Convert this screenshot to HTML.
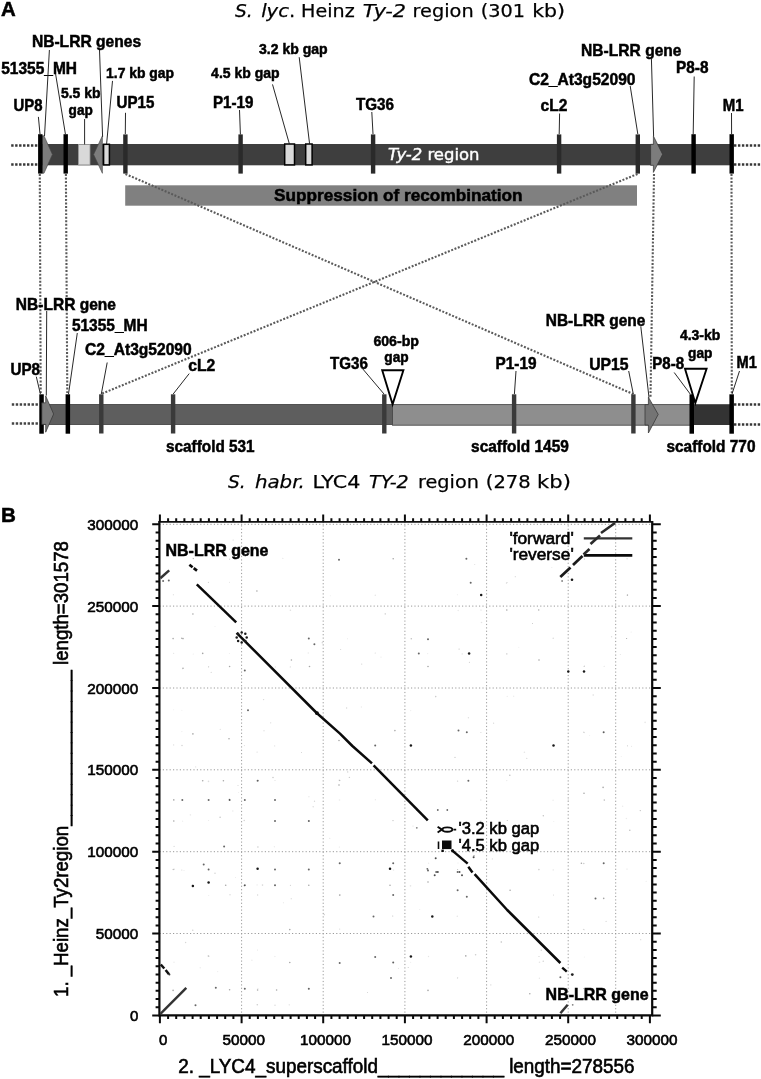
<!DOCTYPE html>
<html lang="en"><head><meta charset="utf-8"><title>Ty-2 region comparison</title>
<style>html,body{margin:0;padding:0;background:#fff}body{width:761px;height:1079px;overflow:hidden}svg{display:block;filter:grayscale(1) blur(0.4px)}text{font-family:"Liberation Sans",Arial,Helvetica,sans-serif;fill:#000}.b{font-weight:bold;stroke:#000;stroke-width:0.5}.n{stroke:#000;stroke-width:0.6}.v{font-family:"DejaVu Sans",Verdana,"Liberation Sans",sans-serif;stroke:#000;stroke-width:0.25}.ld{stroke:#1c1c1c;stroke-width:0.95;fill:none}.dt{stroke:#5a5a5a;stroke-width:2.1;stroke-dasharray:1.95 1.61;fill:none}.de{stroke:#383838;stroke-width:2.5;stroke-dasharray:2.4 1.55;fill:none}.gr{stroke:#9a9a9a;stroke-width:1;stroke-dasharray:1.2 2.2;fill:none}</style></head><body>
<svg width="761" height="1079" viewBox="0 0 761 1079">
<rect width="761" height="1079" fill="#fff"/>
<g id="panelA">
<text x="1.1" y="15.6" font-size="20.4" class="b" text-anchor="start">A</text>
<text x="234.9" y="17.3" font-size="18.5" class="v" font-style="italic">S.</text>
<text x="261.2" y="17.3" font-size="18.5" class="v" textLength="34" lengthAdjust="spacingAndGlyphs"><tspan font-style="italic">lyc</tspan>.</text>
<text x="301.1" y="17.3" font-size="18.5" class="v" textLength="53.6" lengthAdjust="spacingAndGlyphs">Heinz</text>
<text x="362.8" y="17.3" font-size="18.5" class="v" font-style="italic" textLength="43.2" lengthAdjust="spacingAndGlyphs">Ty-2</text>
<text x="412.6" y="17.3" font-size="18.5" class="v" textLength="61.1" lengthAdjust="spacingAndGlyphs">region</text>
<text x="480.7" y="17.3" font-size="18.5" class="v" textLength="44.3" lengthAdjust="spacingAndGlyphs">(301</text>
<text x="532.2" y="17.3" font-size="18.5" class="v" textLength="32.9" lengthAdjust="spacingAndGlyphs">kb)</text>
<text x="228" y="487.5" font-size="18.5" class="v" font-style="italic">S.</text>
<text x="254.9" y="487.5" font-size="18.5" class="v" font-style="italic" textLength="49.95" lengthAdjust="spacingAndGlyphs">habr.</text>
<text x="312.5" y="487.5" font-size="18.5" class="v" textLength="47.75" lengthAdjust="spacingAndGlyphs">LYC4</text>
<text x="369" y="487.5" font-size="18.5" class="v" font-style="italic" textLength="39.7" lengthAdjust="spacingAndGlyphs">TY-2</text>
<text x="418" y="487.5" font-size="18.5" class="v" textLength="60.9" lengthAdjust="spacingAndGlyphs">region</text>
<text x="485.8" y="487.5" font-size="18.5" class="v" textLength="44.9" lengthAdjust="spacingAndGlyphs">(278</text>
<text x="537.1" y="487.5" font-size="18.5" class="v" textLength="33.8" lengthAdjust="spacingAndGlyphs">kb)</text>
<line x1="39.8" y1="174" x2="40.7" y2="394" class="dt"/>
<line x1="65.9" y1="174" x2="67.3" y2="394" class="dt"/>
<line x1="654" y1="174" x2="650.5" y2="397" class="dt"/>
<line x1="731.5" y1="174" x2="731.8" y2="394" class="dt"/>
<line x1="11.2" y1="145.6" x2="38" y2="145.6" class="de"/>
<line x1="734" y1="145.6" x2="761" y2="145.6" class="de"/>
<line x1="11.2" y1="164.4" x2="38" y2="164.4" class="de"/>
<line x1="734" y1="164.4" x2="761" y2="164.4" class="de"/>
<line x1="11.8" y1="404.5" x2="38.4" y2="404.5" class="de" style="stroke:#444"/>
<line x1="734" y1="404.6" x2="761" y2="404.6" class="de"/>
<line x1="11.8" y1="423.5" x2="38.4" y2="423.5" class="de" style="stroke:#444"/>
<line x1="734" y1="424.5" x2="761" y2="424.5" class="de"/>
<rect x="42" y="144" width="688" height="21.3" fill="#3e3e3e"/>
<polygon points="42.3,135.8 44,135.8 52.4,154.4 44,173.2 42.3,173.2" fill="#7c7c7c" stroke="#444" stroke-width="0.6"/>
<polygon points="102.4,135.8 93.6,154.5 102.4,173.3" fill="#7c7c7c" stroke="#444" stroke-width="0.6"/>
<polygon points="650.6,144.3 653.4,144.3 653.4,136 662.6,154.3 653.4,172.4 653.4,165.3 650.6,165.3" fill="#7c7c7c" stroke="#333" stroke-width="0.7"/>
<rect x="78.4" y="144.5" width="11.6" height="20.4" fill="#d9d9d9" stroke="#9a9a9a" stroke-width="0.8"/>
<rect x="103.6" y="144.3" width="5.8" height="20.6" fill="#d9d9d9" stroke="#000" stroke-width="1.5"/>
<rect x="284.7" y="144" width="9.8" height="20.9" fill="#d9d9d9" stroke="#000" stroke-width="1.5"/>
<rect x="305.7" y="144" width="6.4" height="20.9" fill="#d9d9d9" stroke="#000" stroke-width="1.5"/>
<rect x="38.1" y="134.2" width="4.4" height="39.4" fill="#000"/>
<rect x="63.5" y="134.2" width="4.4" height="39.4" fill="#000"/>
<rect x="691.4" y="134.2" width="4.4" height="39.4" fill="#000"/>
<rect x="729.5" y="134.2" width="4.4" height="39.4" fill="#000"/>
<rect x="123.2" y="134.4" width="4.4" height="39.2" fill="#2a2a2a"/>
<rect x="238.4" y="134.4" width="4.4" height="39.2" fill="#2a2a2a"/>
<rect x="370.9" y="134.4" width="4.4" height="39.2" fill="#2a2a2a"/>
<rect x="556.9" y="134.4" width="4.4" height="39.2" fill="#2a2a2a"/>
<rect x="635.6" y="134.4" width="4.4" height="39.2" fill="#2a2a2a"/>
<rect x="125.2" y="185.3" width="511.8" height="20.4" fill="#808080"/>
<line x1="125.5" y1="174" x2="633" y2="394" class="dt"/>
<line x1="637.5" y1="174" x2="101" y2="394" class="dt"/>
<text x="274" y="200.9" font-size="17.2" class="b" text-anchor="start" textLength="248.6" lengthAdjust="spacingAndGlyphs">Suppression of recombination</text>
<text x="388" y="160.4" font-size="15.5" class="v" fill="#fff" style="fill:#fff;stroke:#fff;stroke-width:0.4" textLength="91.5" lengthAdjust="spacingAndGlyphs"><tspan font-style="italic">Ty-2</tspan> region</text>
<text x="31.9" y="46.5" font-size="16.2" class="b" text-anchor="start" textLength="109.2" lengthAdjust="spacingAndGlyphs">NB-LRR genes</text>
<text x="1.2" y="73.7" font-size="16.2" class="b" text-anchor="start" textLength="75.8" lengthAdjust="spacingAndGlyphs">51355_MH</text>
<text x="106.1" y="78" font-size="14.4" class="b" text-anchor="start" textLength="68" lengthAdjust="spacingAndGlyphs">1.7 kb gap</text>
<text x="259" y="54.2" font-size="14.4" class="b" text-anchor="start" textLength="68.6" lengthAdjust="spacingAndGlyphs">3.2 kb gap</text>
<text x="211.1" y="78.2" font-size="14.4" class="b" text-anchor="start" textLength="68.5" lengthAdjust="spacingAndGlyphs">4.5 kb gap</text>
<text x="80.7" y="98.3" font-size="14.4" class="b" text-anchor="middle" textLength="39.5" lengthAdjust="spacingAndGlyphs">5.5 kb</text>
<text x="80.7" y="114.5" font-size="14.4" class="b" text-anchor="middle" textLength="24.2" lengthAdjust="spacingAndGlyphs">gap</text>
<text x="13.6" y="110.7" font-size="16.2" class="b" text-anchor="start" textLength="29" lengthAdjust="spacingAndGlyphs">UP8</text>
<text x="116.5" y="107.8" font-size="16.2" class="b" text-anchor="start" textLength="37.8" lengthAdjust="spacingAndGlyphs">UP15</text>
<text x="213" y="107.8" font-size="16.2" class="b" text-anchor="start" textLength="40.4" lengthAdjust="spacingAndGlyphs">P1-19</text>
<text x="356" y="110" font-size="16.2" class="b" text-anchor="start" textLength="38" lengthAdjust="spacingAndGlyphs">TG36</text>
<text x="540.6" y="111.3" font-size="16.2" class="b" text-anchor="start" textLength="26.8" lengthAdjust="spacingAndGlyphs">cL2</text>
<text x="528.9" y="84.7" font-size="16.2" class="b" text-anchor="start" textLength="106.6" lengthAdjust="spacingAndGlyphs">C2_At3g52090</text>
<text x="581.1" y="56.1" font-size="16.2" class="b" text-anchor="start" textLength="100.4" lengthAdjust="spacingAndGlyphs">NB-LRR gene</text>
<text x="676.1" y="72.7" font-size="16.2" class="b" text-anchor="start" textLength="32.4" lengthAdjust="spacingAndGlyphs">P8-8</text>
<text x="722.7" y="111.3" font-size="16.2" class="b" text-anchor="start" textLength="20.8" lengthAdjust="spacingAndGlyphs">M1</text>
<line x1="49.4" y1="50" x2="44.5" y2="136" class="ld"/>
<line x1="99.5" y1="50" x2="102.6" y2="136.8" class="ld"/>
<line x1="55.6" y1="74" x2="65.4" y2="134" class="ld"/>
<line x1="38.4" y1="116.9" x2="40" y2="134" class="ld"/>
<line x1="84.6" y1="119" x2="84.6" y2="144.4" class="ld"/>
<line x1="112.5" y1="80.9" x2="106.6" y2="144" class="ld"/>
<line x1="125.5" y1="112.8" x2="125.3" y2="134" class="ld"/>
<line x1="239.5" y1="110" x2="240.4" y2="134.5" class="ld"/>
<line x1="272.5" y1="84.4" x2="289.4" y2="144" class="ld"/>
<line x1="299.2" y1="57.2" x2="309.6" y2="144" class="ld"/>
<line x1="371.8" y1="112" x2="373" y2="134" class="ld"/>
<line x1="559.6" y1="113.5" x2="559.2" y2="134" class="ld"/>
<line x1="630.2" y1="86" x2="637.8" y2="134" class="ld"/>
<line x1="651.4" y1="58" x2="653.6" y2="136" class="ld"/>
<line x1="694.2" y1="76.5" x2="693.2" y2="134" class="ld"/>
<line x1="731.5" y1="113" x2="731.6" y2="134" class="ld"/>
<rect x="43" y="404.5" width="349.5" height="20" fill="#5e5e5e" stroke="#3c3c3c" stroke-width="0.8"/>
<rect x="392.5" y="404.6" width="300" height="20.6" fill="#8e8e8e" stroke="#4a4a4a" stroke-width="0.9"/>
<rect x="693" y="404.2" width="37.5" height="20.8" fill="#333"/>
<polygon points="645,404.6 648.4,404.6 648.4,397.2 658.2,414.4 648.4,433 648.4,425 645,425" fill="#747474" stroke="#3a3a3a" stroke-width="0.8"/>
<rect x="39.3" y="394.3" width="4.5" height="39.4" fill="#000"/>
<rect x="65.6" y="394.3" width="4.5" height="39.4" fill="#000"/>
<rect x="689.5" y="394.3" width="4.5" height="39.4" fill="#000"/>
<rect x="729.4" y="394.3" width="4.5" height="39.4" fill="#000"/>
<rect x="99.1" y="394.3" width="4.4" height="39.2" fill="#3a3a3a"/>
<rect x="170.9" y="394.3" width="4.4" height="39.2" fill="#3a3a3a"/>
<rect x="382.1" y="394.3" width="4.4" height="39.2" fill="#3a3a3a"/>
<rect x="511.9" y="394.3" width="4.4" height="39.2" fill="#3a3a3a"/>
<rect x="631.2" y="394.3" width="4.4" height="39.2" fill="#3a3a3a"/>
<polygon points="41.8,402.8 45.7,402.8 45.7,395.9 53.6,414 45.7,432.2 45.7,424.4 41.8,424.4" fill="#7a7a7a" stroke="#333" stroke-width="0.7"/>
<polygon points="382.2,370.3 403.4,370.3 392.6,404.2" fill="#fff" stroke="#000" stroke-width="1.9" stroke-linejoin="miter"/>
<polygon points="685,368.8 706.6,368.8 695.3,403" fill="#fff" stroke="#000" stroke-width="1.9" stroke-linejoin="miter"/>
<text x="15.8" y="309.7" font-size="16.2" class="b" text-anchor="start" textLength="100.2" lengthAdjust="spacingAndGlyphs">NB-LRR gene</text>
<text x="71.9" y="331.3" font-size="16.2" class="b" text-anchor="start" textLength="75.7" lengthAdjust="spacingAndGlyphs">51355_MH</text>
<text x="85.1" y="354.7" font-size="16.2" class="b" text-anchor="start" textLength="106.6" lengthAdjust="spacingAndGlyphs">C2_At3g52090</text>
<text x="10.4" y="375.1" font-size="16.2" class="b" text-anchor="start" textLength="29.6" lengthAdjust="spacingAndGlyphs">UP8</text>
<text x="188.3" y="370.7" font-size="16.2" class="b" text-anchor="start" textLength="27" lengthAdjust="spacingAndGlyphs">cL2</text>
<text x="330" y="369.4" font-size="16.2" class="b" text-anchor="start" textLength="37.8" lengthAdjust="spacingAndGlyphs">TG36</text>
<text x="396.2" y="345.8" font-size="14.4" class="b" text-anchor="middle" textLength="45.6" lengthAdjust="spacingAndGlyphs">606-bp</text>
<text x="396.5" y="362.3" font-size="14.4" class="b" text-anchor="middle" textLength="24.4" lengthAdjust="spacingAndGlyphs">gap</text>
<text x="495.5" y="369.4" font-size="16.2" class="b" text-anchor="start" textLength="41" lengthAdjust="spacingAndGlyphs">P1-19</text>
<text x="589.2" y="370" font-size="16.2" class="b" text-anchor="start" textLength="39.4" lengthAdjust="spacingAndGlyphs">UP15</text>
<text x="545.8" y="326" font-size="16.2" class="b" text-anchor="start" textLength="99.6" lengthAdjust="spacingAndGlyphs">NB-LRR gene</text>
<text x="652.3" y="369.4" font-size="16.2" class="b" text-anchor="start" textLength="31.8" lengthAdjust="spacingAndGlyphs">P8-8</text>
<text x="700.15" y="340.3" font-size="14.4" class="b" text-anchor="middle" textLength="40.4" lengthAdjust="spacingAndGlyphs">4.3-kb</text>
<text x="700.3" y="357.6" font-size="14.4" class="b" text-anchor="middle" textLength="24.4" lengthAdjust="spacingAndGlyphs">gap</text>
<text x="736.6" y="367.6" font-size="16.2" class="b" text-anchor="start" textLength="20.3" lengthAdjust="spacingAndGlyphs">M1</text>
<text x="166" y="452.3" font-size="16.2" class="b" text-anchor="start" textLength="88.6" lengthAdjust="spacingAndGlyphs">scaffold 531</text>
<text x="471.1" y="451.7" font-size="16.2" class="b" text-anchor="start" textLength="97.7" lengthAdjust="spacingAndGlyphs">scaffold 1459</text>
<text x="666.5" y="451.7" font-size="16.2" class="b" text-anchor="start" textLength="89" lengthAdjust="spacingAndGlyphs">scaffold 770</text>
<line x1="36.3" y1="376.7" x2="40.4" y2="394" class="ld"/>
<line x1="46.7" y1="311" x2="46.3" y2="395.6" class="ld"/>
<line x1="77.3" y1="333" x2="68.5" y2="394" class="ld"/>
<line x1="107.2" y1="362.5" x2="101.3" y2="394" class="ld"/>
<line x1="189.2" y1="373.6" x2="173.2" y2="394" class="ld"/>
<line x1="362.4" y1="368.5" x2="384" y2="394" class="ld"/>
<line x1="516" y1="371" x2="514.4" y2="394" class="ld"/>
<line x1="628.7" y1="371" x2="633.3" y2="394" class="ld"/>
<line x1="640.8" y1="326.5" x2="649" y2="397.5" class="ld"/>
<line x1="674.2" y1="372.5" x2="690.2" y2="394" class="ld"/>
<line x1="739.5" y1="371" x2="732" y2="394" class="ld"/>
</g>
<g id="panelB">
<text x="1.0" y="522.2" font-size="20.6" class="b" text-anchor="start">B</text>
<line x1="241.6" y1="521.9" x2="241.6" y2="1015.3" class="gr"/>
<line x1="323.2" y1="521.9" x2="323.2" y2="1015.3" class="gr"/>
<line x1="404.9" y1="521.9" x2="404.9" y2="1015.3" class="gr"/>
<line x1="486.6" y1="521.9" x2="486.6" y2="1015.3" class="gr"/>
<line x1="568.2" y1="521.9" x2="568.2" y2="1015.3" class="gr"/>
<line x1="159.4" y1="933.5" x2="652.2" y2="933.5" class="gr"/>
<line x1="159.4" y1="851.7" x2="652.2" y2="851.7" class="gr"/>
<line x1="159.4" y1="769.8" x2="652.2" y2="769.8" class="gr"/>
<line x1="159.4" y1="688.0" x2="652.2" y2="688.0" class="gr"/>
<line x1="159.4" y1="606.1" x2="652.2" y2="606.1" class="gr"/>
<line x1="159.4" y1="524.3" x2="652.2" y2="524.3" class="gr"/>
<line x1="615.7" y1="521.9" x2="615.7" y2="1015.3" class="gr"/>
<circle cx="308.8" cy="638.6" r="1.0" fill="#000" fill-opacity="0.6"/><circle cx="314.4" cy="644.2" r="1.0" fill="#000" fill-opacity="0.6"/><circle cx="173.1" cy="638.6" r="0.8" fill="#000" fill-opacity="0.35"/><circle cx="183" cy="638.6" r="0.8" fill="#000" fill-opacity="0.35"/><circle cx="202.7" cy="653.4" r="0.8" fill="#000" fill-opacity="0.35"/><circle cx="244.8" cy="670.5" r="1.0" fill="#000" fill-opacity="0.6"/><circle cx="309.5" cy="666.5" r="0.8" fill="#000" fill-opacity="0.35"/><circle cx="183" cy="668.2" r="0.8" fill="#000" fill-opacity="0.35"/><circle cx="229.6" cy="666.5" r="0.8" fill="#000" fill-opacity="0.35"/><circle cx="248" cy="710.2" r="1.0" fill="#000" fill-opacity="0.6"/><circle cx="339" cy="559.8" r="1.0" fill="#000" fill-opacity="0.6"/><circle cx="393.2" cy="558.8" r="0.8" fill="#000" fill-opacity="0.35"/><circle cx="256.9" cy="591" r="0.8" fill="#000" fill-opacity="0.35"/><circle cx="192.9" cy="614" r="0.8" fill="#000" fill-opacity="0.35"/><circle cx="291.4" cy="660" r="0.8" fill="#000" fill-opacity="0.35"/><circle cx="375.2" cy="745.4" r="1.0" fill="#000" fill-opacity="0.6"/><circle cx="394.9" cy="730.6" r="0.8" fill="#000" fill-opacity="0.35"/><circle cx="339" cy="740.5" r="0.8" fill="#000" fill-opacity="0.35"/><circle cx="229" cy="738.8" r="0.8" fill="#000" fill-opacity="0.35"/><circle cx="192.9" cy="733.9" r="0.8" fill="#000" fill-opacity="0.35"/><circle cx="466.4" cy="558.8" r="1.0" fill="#000" fill-opacity="0.6"/><circle cx="470.7" cy="582.8" r="1.0" fill="#000" fill-opacity="0.6"/><circle cx="481.2" cy="594.9" r="1.25" fill="#000" fill-opacity="0.9"/><circle cx="428" cy="639.3" r="1.0" fill="#000" fill-opacity="0.6"/><circle cx="418.8" cy="653.4" r="1.0" fill="#000" fill-opacity="0.6"/><circle cx="469.1" cy="653.4" r="1.25" fill="#000" fill-opacity="0.9"/><circle cx="428" cy="666.5" r="0.8" fill="#000" fill-opacity="0.35"/><circle cx="568.3" cy="671.5" r="1.25" fill="#000" fill-opacity="0.9"/><circle cx="584" cy="671.5" r="1.25" fill="#000" fill-opacity="0.9"/><circle cx="458.5" cy="730.6" r="1.0" fill="#000" fill-opacity="0.6"/><circle cx="466.8" cy="732.2" r="1.0" fill="#000" fill-opacity="0.6"/><circle cx="410.9" cy="745.4" r="1.25" fill="#000" fill-opacity="0.9"/><circle cx="553.5" cy="745.4" r="1.25" fill="#000" fill-opacity="0.9"/><circle cx="603.7" cy="732.2" r="1.0" fill="#000" fill-opacity="0.6"/><circle cx="506.8" cy="610" r="0.8" fill="#000" fill-opacity="0.35"/><circle cx="539" cy="660" r="0.8" fill="#000" fill-opacity="0.35"/><circle cx="257.6" cy="780.8" r="1.0" fill="#000" fill-opacity="0.6"/><circle cx="182.3" cy="799.9" r="1.0" fill="#000" fill-opacity="0.6"/><circle cx="208.6" cy="799.9" r="1.0" fill="#000" fill-opacity="0.6"/><circle cx="229.6" cy="799.9" r="1.0" fill="#000" fill-opacity="0.6"/><circle cx="244.8" cy="799.9" r="1.0" fill="#000" fill-opacity="0.6"/><circle cx="275" cy="799.9" r="1.0" fill="#000" fill-opacity="0.6"/><circle cx="173.8" cy="799.9" r="0.8" fill="#000" fill-opacity="0.35"/><circle cx="173.8" cy="821" r="0.8" fill="#000" fill-opacity="0.35"/><circle cx="275" cy="821" r="1.0" fill="#000" fill-opacity="0.6"/><circle cx="308.8" cy="821" r="1.0" fill="#000" fill-opacity="0.6"/><circle cx="224.1" cy="846.5" r="1.0" fill="#000" fill-opacity="0.6"/><circle cx="257.6" cy="868.8" r="1.25" fill="#000" fill-opacity="0.9"/><circle cx="275" cy="869.5" r="1.0" fill="#000" fill-opacity="0.6"/><circle cx="308.8" cy="869.5" r="1.0" fill="#000" fill-opacity="0.6"/><circle cx="208.6" cy="869.5" r="1.0" fill="#000" fill-opacity="0.6"/><circle cx="203.7" cy="864.6" r="1.0" fill="#000" fill-opacity="0.6"/><circle cx="192.9" cy="885.9" r="1.25" fill="#000" fill-opacity="0.9"/><circle cx="208.6" cy="882.6" r="1.25" fill="#000" fill-opacity="0.9"/><circle cx="244.8" cy="885.3" r="1.0" fill="#000" fill-opacity="0.6"/><circle cx="275" cy="885.3" r="1.0" fill="#000" fill-opacity="0.6"/><circle cx="308.8" cy="885.3" r="0.8" fill="#000" fill-opacity="0.35"/><circle cx="225.7" cy="885.3" r="0.8" fill="#000" fill-opacity="0.35"/><circle cx="390" cy="868.8" r="1.25" fill="#000" fill-opacity="0.9"/><circle cx="393.2" cy="863.3" r="1.0" fill="#000" fill-opacity="0.6"/><circle cx="393.2" cy="895.1" r="1.0" fill="#000" fill-opacity="0.6"/><circle cx="390" cy="885.3" r="0.8" fill="#000" fill-opacity="0.35"/><circle cx="339.7" cy="863.3" r="1.0" fill="#000" fill-opacity="0.6"/><circle cx="339.7" cy="895.1" r="0.8" fill="#000" fill-opacity="0.35"/><circle cx="373.5" cy="916.5" r="1.0" fill="#000" fill-opacity="0.6"/><circle cx="339.7" cy="963.1" r="1.0" fill="#000" fill-opacity="0.6"/><circle cx="375.2" cy="956.9" r="1.0" fill="#000" fill-opacity="0.6"/><circle cx="393.2" cy="962.5" r="1.0" fill="#000" fill-opacity="0.6"/><circle cx="391" cy="977.9" r="1.0" fill="#000" fill-opacity="0.6"/><circle cx="289.8" cy="929.6" r="0.8" fill="#000" fill-opacity="0.35"/><circle cx="289.8" cy="962.5" r="0.8" fill="#000" fill-opacity="0.35"/><circle cx="244.8" cy="988.7" r="1.0" fill="#000" fill-opacity="0.6"/><circle cx="308.8" cy="988.7" r="1.0" fill="#000" fill-opacity="0.6"/><circle cx="215.8" cy="987.8" r="1.0" fill="#000" fill-opacity="0.6"/><circle cx="229.6" cy="989.7" r="0.8" fill="#000" fill-opacity="0.35"/><circle cx="257.6" cy="990" r="0.8" fill="#000" fill-opacity="0.35"/><circle cx="276.6" cy="990" r="0.8" fill="#000" fill-opacity="0.35"/><circle cx="195.5" cy="1005.2" r="1.0" fill="#000" fill-opacity="0.6"/><circle cx="173.1" cy="990.4" r="0.8" fill="#000" fill-opacity="0.35"/><circle cx="339" cy="785" r="0.8" fill="#000" fill-opacity="0.35"/><circle cx="202.7" cy="780.8" r="0.8" fill="#000" fill-opacity="0.35"/><circle cx="223.4" cy="780.8" r="0.8" fill="#000" fill-opacity="0.35"/><circle cx="468.4" cy="780.8" r="1.0" fill="#000" fill-opacity="0.6"/><circle cx="432.3" cy="916.5" r="1.25" fill="#000" fill-opacity="0.9"/><circle cx="410.9" cy="956.6" r="1.25" fill="#000" fill-opacity="0.9"/><circle cx="457.6" cy="890.2" r="1.0" fill="#000" fill-opacity="0.6"/><circle cx="466.8" cy="896.8" r="1.0" fill="#000" fill-opacity="0.6"/><circle cx="428" cy="870.5" r="1.0" fill="#000" fill-opacity="0.6"/><circle cx="436.2" cy="872.1" r="1.0" fill="#000" fill-opacity="0.6"/><circle cx="428" cy="882" r="0.8" fill="#000" fill-opacity="0.35"/><circle cx="457.6" cy="872.1" r="1.0" fill="#000" fill-opacity="0.6"/><circle cx="603.7" cy="863.3" r="1.0" fill="#000" fill-opacity="0.6"/><circle cx="581.4" cy="863.3" r="0.8" fill="#000" fill-opacity="0.35"/><circle cx="603.7" cy="898.4" r="0.8" fill="#000" fill-opacity="0.35"/><circle cx="595.5" cy="898.4" r="1.0" fill="#000" fill-opacity="0.6"/><circle cx="584" cy="793.3" r="0.8" fill="#000" fill-opacity="0.35"/><circle cx="603.1" cy="787.4" r="0.8" fill="#000" fill-opacity="0.35"/><circle cx="465.8" cy="955.9" r="0.8" fill="#000" fill-opacity="0.35"/><circle cx="428" cy="990.4" r="0.8" fill="#000" fill-opacity="0.35"/><circle cx="529.8" cy="993.7" r="0.8" fill="#000" fill-opacity="0.35"/><circle cx="510.1" cy="890.2" r="0.8" fill="#000" fill-opacity="0.35"/><circle cx="474" cy="855.7" r="0.8" fill="#000" fill-opacity="0.35"/><circle cx="229.5" cy="582.3" r="0.5" fill="#000" fill-opacity="0.13"/><circle cx="457.3" cy="594.8" r="0.5" fill="#000" fill-opacity="0.1"/><circle cx="392.7" cy="916.0" r="0.6" fill="#000" fill-opacity="0.25"/><circle cx="622.6" cy="806.3" r="0.8" fill="#000" fill-opacity="0.08"/><circle cx="185.6" cy="942.5" r="0.7" fill="#000" fill-opacity="0.16"/><circle cx="208.7" cy="895.5" r="0.6" fill="#000" fill-opacity="0.08"/><circle cx="538.6" cy="610.1" r="0.5" fill="#000" fill-opacity="0.2"/><circle cx="257.6" cy="895.0" r="0.7" fill="#000" fill-opacity="0.16"/><circle cx="410.7" cy="710.6" r="0.6" fill="#000" fill-opacity="0.08"/><circle cx="457.6" cy="781.1" r="0.7" fill="#000" fill-opacity="0.2"/><circle cx="220.3" cy="729.4" r="0.7" fill="#000" fill-opacity="0.1"/><circle cx="367.5" cy="992.6" r="0.5" fill="#000" fill-opacity="0.2"/><circle cx="339.5" cy="800.0" r="0.8" fill="#000" fill-opacity="0.08"/><circle cx="621.2" cy="756.5" r="0.5" fill="#000" fill-opacity="0.08"/><circle cx="313.2" cy="806.7" r="0.8" fill="#000" fill-opacity="0.13"/><circle cx="593.2" cy="695.0" r="0.8" fill="#000" fill-opacity="0.13"/><circle cx="208.6" cy="666.8" r="0.6" fill="#000" fill-opacity="0.25"/><circle cx="390.5" cy="869.0" r="0.8" fill="#000" fill-opacity="0.16"/><circle cx="230.0" cy="894.8" r="0.8" fill="#000" fill-opacity="0.13"/><circle cx="347.5" cy="638.7" r="0.5" fill="#000" fill-opacity="0.1"/><circle cx="553.2" cy="869.9" r="0.6" fill="#000" fill-opacity="0.13"/><circle cx="229.5" cy="800.0" r="0.7" fill="#000" fill-opacity="0.1"/><circle cx="413.0" cy="825.9" r="0.5" fill="#000" fill-opacity="0.16"/><circle cx="541.3" cy="950.3" r="0.8" fill="#000" fill-opacity="0.16"/><circle cx="208.6" cy="820.5" r="0.5" fill="#000" fill-opacity="0.1"/><circle cx="208.4" cy="582.3" r="0.6" fill="#000" fill-opacity="0.2"/><circle cx="375.3" cy="595.3" r="0.8" fill="#000" fill-opacity="0.1"/><circle cx="626.4" cy="818.5" r="0.8" fill="#000" fill-opacity="0.08"/><circle cx="428.6" cy="863.3" r="0.7" fill="#000" fill-opacity="0.08"/><circle cx="583.8" cy="732.2" r="0.6" fill="#000" fill-opacity="0.2"/><circle cx="457.4" cy="978.0" r="0.5" fill="#000" fill-opacity="0.2"/><circle cx="539.4" cy="978.3" r="0.7" fill="#000" fill-opacity="0.1"/><circle cx="275.0" cy="1005.2" r="0.6" fill="#000" fill-opacity="0.2"/><circle cx="640.7" cy="939.7" r="0.6" fill="#000" fill-opacity="0.16"/><circle cx="273.0" cy="777.5" r="0.7" fill="#000" fill-opacity="0.25"/><circle cx="174.1" cy="869.2" r="0.7" fill="#000" fill-opacity="0.16"/><circle cx="513.7" cy="696.2" r="0.7" fill="#000" fill-opacity="0.08"/><circle cx="275.0" cy="780.4" r="0.5" fill="#000" fill-opacity="0.16"/><circle cx="329.8" cy="838.3" r="0.5" fill="#000" fill-opacity="0.16"/><circle cx="526.8" cy="758.4" r="0.6" fill="#000" fill-opacity="0.16"/><circle cx="324.3" cy="914.6" r="0.8" fill="#000" fill-opacity="0.16"/><circle cx="193.2" cy="654.0" r="0.5" fill="#000" fill-opacity="0.1"/><circle cx="411.3" cy="638.7" r="0.8" fill="#000" fill-opacity="0.25"/><circle cx="238.6" cy="792.4" r="0.5" fill="#000" fill-opacity="0.08"/><circle cx="515.3" cy="576.7" r="0.6" fill="#000" fill-opacity="0.16"/><circle cx="257.5" cy="950.0" r="0.5" fill="#000" fill-opacity="0.13"/><circle cx="457.3" cy="916.3" r="0.8" fill="#000" fill-opacity="0.1"/><circle cx="583.8" cy="863.5" r="0.8" fill="#000" fill-opacity="0.2"/><circle cx="229.6" cy="559.2" r="0.6" fill="#000" fill-opacity="0.2"/><circle cx="626.6" cy="638.6" r="0.5" fill="#000" fill-opacity="0.2"/><circle cx="553.5" cy="895.1" r="0.5" fill="#000" fill-opacity="0.2"/><circle cx="257.3" cy="1004.7" r="0.8" fill="#000" fill-opacity="0.2"/><circle cx="192.8" cy="930.2" r="0.6" fill="#000" fill-opacity="0.25"/><circle cx="457.6" cy="869.5" r="0.6" fill="#000" fill-opacity="0.25"/><circle cx="290.3" cy="666.9" r="0.6" fill="#000" fill-opacity="0.16"/><circle cx="410.7" cy="962.2" r="0.5" fill="#000" fill-opacity="0.1"/><circle cx="543.2" cy="961.2" r="0.6" fill="#000" fill-opacity="0.25"/><circle cx="340.6" cy="649.5" r="0.6" fill="#000" fill-opacity="0.16"/><circle cx="208.5" cy="869.1" r="0.6" fill="#000" fill-opacity="0.1"/><circle cx="645.1" cy="722.4" r="0.8" fill="#000" fill-opacity="0.1"/><circle cx="193.2" cy="558.6" r="0.8" fill="#000" fill-opacity="0.16"/><circle cx="349.4" cy="777.4" r="0.7" fill="#000" fill-opacity="0.2"/><circle cx="217.7" cy="971.6" r="0.6" fill="#000" fill-opacity="0.08"/><circle cx="289.2" cy="1004.8" r="0.6" fill="#000" fill-opacity="0.16"/><circle cx="490.8" cy="984.9" r="0.8" fill="#000" fill-opacity="0.1"/><circle cx="457.7" cy="977.7" r="0.7" fill="#000" fill-opacity="0.08"/><circle cx="251.9" cy="960.3" r="0.7" fill="#000" fill-opacity="0.08"/><circle cx="551.8" cy="567.5" r="0.6" fill="#000" fill-opacity="0.08"/><circle cx="208.5" cy="781.4" r="0.8" fill="#000" fill-opacity="0.13"/><circle cx="184.0" cy="870.4" r="0.5" fill="#000" fill-opacity="0.1"/><circle cx="244.4" cy="745.6" r="0.6" fill="#000" fill-opacity="0.13"/><circle cx="553.1" cy="800.3" r="0.7" fill="#000" fill-opacity="0.08"/><circle cx="584.0" cy="666.5" r="0.6" fill="#000" fill-opacity="0.16"/><circle cx="538.9" cy="869.6" r="0.8" fill="#000" fill-opacity="0.2"/><circle cx="258.2" cy="780.4" r="0.6" fill="#000" fill-opacity="0.16"/><circle cx="639.2" cy="932.1" r="0.5" fill="#000" fill-opacity="0.08"/><circle cx="589.7" cy="735.5" r="0.5" fill="#000" fill-opacity="0.08"/><circle cx="347.7" cy="771.9" r="0.7" fill="#000" fill-opacity="0.2"/><circle cx="308.3" cy="653.0" r="0.8" fill="#000" fill-opacity="0.08"/><circle cx="340.3" cy="894.9" r="0.5" fill="#000" fill-opacity="0.13"/><circle cx="244.2" cy="820.5" r="0.7" fill="#000" fill-opacity="0.2"/><circle cx="283.4" cy="902.7" r="0.5" fill="#000" fill-opacity="0.13"/><circle cx="232.8" cy="811.0" r="0.8" fill="#000" fill-opacity="0.08"/><circle cx="538.7" cy="917.0" r="0.6" fill="#000" fill-opacity="0.25"/><circle cx="543.3" cy="815.7" r="0.7" fill="#000" fill-opacity="0.25"/><circle cx="235.5" cy="877.5" r="0.6" fill="#000" fill-opacity="0.08"/><circle cx="509.8" cy="775.3" r="0.8" fill="#000" fill-opacity="0.25"/><circle cx="408.2" cy="967.4" r="0.5" fill="#000" fill-opacity="0.25"/><circle cx="568.5" cy="978.1" r="0.5" fill="#000" fill-opacity="0.08"/><circle cx="538.8" cy="609.9" r="0.8" fill="#000" fill-opacity="0.2"/><circle cx="174.0" cy="962.2" r="0.7" fill="#000" fill-opacity="0.08"/><circle cx="193.2" cy="885.8" r="0.5" fill="#000" fill-opacity="0.25"/><circle cx="584.3" cy="732.6" r="0.7" fill="#000" fill-opacity="0.1"/><circle cx="262.5" cy="885.1" r="0.8" fill="#000" fill-opacity="0.16"/><circle cx="200.2" cy="967.7" r="0.7" fill="#000" fill-opacity="0.08"/><circle cx="474.7" cy="564.5" r="0.6" fill="#000" fill-opacity="0.13"/><circle cx="584.2" cy="929.7" r="0.5" fill="#000" fill-opacity="0.16"/><circle cx="290.4" cy="610.2" r="0.8" fill="#000" fill-opacity="0.13"/><circle cx="301.5" cy="752.5" r="0.5" fill="#000" fill-opacity="0.2"/><circle cx="193.4" cy="558.5" r="0.5" fill="#000" fill-opacity="0.2"/><circle cx="381.0" cy="657.0" r="0.6" fill="#000" fill-opacity="0.1"/><circle cx="192.5" cy="885.0" r="0.7" fill="#000" fill-opacity="0.1"/><circle cx="469.4" cy="662.3" r="0.5" fill="#000" fill-opacity="0.25"/><circle cx="428.5" cy="869.4" r="0.6" fill="#000" fill-opacity="0.08"/><circle cx="493.6" cy="723.2" r="0.6" fill="#000" fill-opacity="0.16"/><circle cx="339.2" cy="780.2" r="0.7" fill="#000" fill-opacity="0.16"/><circle cx="257.9" cy="988.4" r="0.7" fill="#000" fill-opacity="0.08"/><circle cx="480.7" cy="846.8" r="0.5" fill="#000" fill-opacity="0.13"/><circle cx="553.2" cy="638.3" r="0.7" fill="#000" fill-opacity="0.16"/><circle cx="257.9" cy="847.0" r="0.8" fill="#000" fill-opacity="0.2"/><circle cx="583.5" cy="988.6" r="0.6" fill="#000" fill-opacity="0.25"/><circle cx="398.5" cy="968.4" r="0.6" fill="#000" fill-opacity="0.1"/><circle cx="339.4" cy="732.5" r="0.7" fill="#000" fill-opacity="0.16"/><circle cx="308.9" cy="796.7" r="0.8" fill="#000" fill-opacity="0.08"/><circle cx="244.3" cy="885.8" r="0.8" fill="#000" fill-opacity="0.2"/><circle cx="340.3" cy="863.2" r="0.6" fill="#000" fill-opacity="0.1"/><circle cx="339.8" cy="780.5" r="0.7" fill="#000" fill-opacity="0.2"/><circle cx="174.1" cy="846.4" r="0.6" fill="#000" fill-opacity="0.16"/><circle cx="603.2" cy="732.3" r="0.7" fill="#000" fill-opacity="0.1"/><circle cx="419.7" cy="909.5" r="0.6" fill="#000" fill-opacity="0.08"/><circle cx="274.9" cy="956.5" r="0.7" fill="#000" fill-opacity="0.08"/><circle cx="393.5" cy="870.1" r="0.8" fill="#000" fill-opacity="0.08"/><circle cx="458.0" cy="863.0" r="0.5" fill="#000" fill-opacity="0.1"/><circle cx="458.2" cy="610.5" r="0.8" fill="#000" fill-opacity="0.08"/><circle cx="181.7" cy="638.3" r="0.5" fill="#000" fill-opacity="0.25"/><circle cx="629.8" cy="830.2" r="0.8" fill="#000" fill-opacity="0.25"/><circle cx="211.2" cy="672.4" r="0.6" fill="#000" fill-opacity="0.16"/><circle cx="627.1" cy="558.8" r="0.8" fill="#000" fill-opacity="0.13"/><circle cx="475.6" cy="954.7" r="0.8" fill="#000" fill-opacity="0.2"/><circle cx="274.4" cy="846.7" r="0.7" fill="#000" fill-opacity="0.08"/><circle cx="428.5" cy="956.5" r="0.7" fill="#000" fill-opacity="0.1"/><circle cx="611.7" cy="636.8" r="0.5" fill="#000" fill-opacity="0.25"/><circle cx="393.0" cy="820.6" r="0.7" fill="#000" fill-opacity="0.25"/><circle cx="195.7" cy="766.9" r="0.6" fill="#000" fill-opacity="0.13"/><circle cx="257.1" cy="752.1" r="0.7" fill="#000" fill-opacity="0.13"/><circle cx="506.8" cy="653.9" r="0.8" fill="#000" fill-opacity="0.16"/><circle cx="190.4" cy="814.9" r="0.8" fill="#000" fill-opacity="0.08"/><circle cx="506.4" cy="583.1" r="0.6" fill="#000" fill-opacity="0.16"/><circle cx="568.8" cy="988.2" r="0.5" fill="#000" fill-opacity="0.1"/><circle cx="245.0" cy="885.6" r="0.5" fill="#000" fill-opacity="0.13"/><circle cx="346.6" cy="708.0" r="0.7" fill="#000" fill-opacity="0.16"/><circle cx="173.3" cy="594.7" r="0.5" fill="#000" fill-opacity="0.2"/><circle cx="263.6" cy="699.6" r="0.7" fill="#000" fill-opacity="0.16"/><circle cx="568.3" cy="799.9" r="0.8" fill="#000" fill-opacity="0.1"/><circle cx="584.5" cy="559.0" r="0.6" fill="#000" fill-opacity="0.25"/><circle cx="182.7" cy="543.9" r="0.5" fill="#000" fill-opacity="0.08"/><circle cx="583.5" cy="929.4" r="0.7" fill="#000" fill-opacity="0.13"/><circle cx="462.2" cy="653.9" r="0.7" fill="#000" fill-opacity="0.13"/><circle cx="584.3" cy="957.1" r="0.5" fill="#000" fill-opacity="0.08"/><circle cx="215.0" cy="873.3" r="0.8" fill="#000" fill-opacity="0.16"/><circle cx="606.1" cy="921.4" r="0.6" fill="#000" fill-opacity="0.16"/><circle cx="627.5" cy="745.8" r="0.6" fill="#000" fill-opacity="0.2"/><circle cx="339.7" cy="929.1" r="0.6" fill="#000" fill-opacity="0.16"/><circle cx="282.9" cy="558.3" r="0.5" fill="#000" fill-opacity="0.16"/><circle cx="339.3" cy="847.0" r="0.5" fill="#000" fill-opacity="0.13"/><circle cx="264.0" cy="730.8" r="0.8" fill="#000" fill-opacity="0.1"/><circle cx="393.2" cy="962.2" r="0.5" fill="#000" fill-opacity="0.13"/><circle cx="480.9" cy="732.5" r="0.6" fill="#000" fill-opacity="0.16"/><circle cx="274.7" cy="745.9" r="0.6" fill="#000" fill-opacity="0.13"/><circle cx="290.4" cy="885.3" r="0.5" fill="#000" fill-opacity="0.25"/><circle cx="181.8" cy="870.0" r="0.6" fill="#000" fill-opacity="0.16"/><circle cx="182.6" cy="669.1" r="0.5" fill="#000" fill-opacity="0.08"/><circle cx="480.8" cy="594.7" r="0.6" fill="#000" fill-opacity="0.16"/><circle cx="538.9" cy="848.7" r="0.5" fill="#000" fill-opacity="0.08"/><circle cx="507.2" cy="696.3" r="0.5" fill="#000" fill-opacity="0.13"/><circle cx="181.9" cy="731.6" r="0.6" fill="#000" fill-opacity="0.08"/><circle cx="361.4" cy="707.0" r="0.7" fill="#000" fill-opacity="0.08"/><circle cx="627.0" cy="869.0" r="0.5" fill="#000" fill-opacity="0.16"/><circle cx="238.0" cy="785.5" r="0.6" fill="#000" fill-opacity="0.16"/><circle cx="361.7" cy="664.1" r="0.7" fill="#000" fill-opacity="0.16"/><circle cx="314.5" cy="801.2" r="0.7" fill="#000" fill-opacity="0.16"/><circle cx="604.3" cy="800.1" r="0.8" fill="#000" fill-opacity="0.25"/><circle cx="173.7" cy="653.3" r="0.5" fill="#000" fill-opacity="0.16"/><circle cx="375.2" cy="653.0" r="0.5" fill="#000" fill-opacity="0.2"/><circle cx="627.5" cy="595.0" r="0.7" fill="#000" fill-opacity="0.25"/><circle cx="229.4" cy="653.4" r="0.5" fill="#000" fill-opacity="0.08"/><circle cx="604.1" cy="666.3" r="0.5" fill="#000" fill-opacity="0.16"/><circle cx="507.3" cy="820.5" r="0.6" fill="#000" fill-opacity="0.25"/><circle cx="270.7" cy="722.8" r="0.6" fill="#000" fill-opacity="0.16"/><circle cx="257.1" cy="884.9" r="0.7" fill="#000" fill-opacity="0.08"/><circle cx="584.4" cy="665.9" r="0.5" fill="#000" fill-opacity="0.25"/><circle cx="220.1" cy="817.2" r="0.7" fill="#000" fill-opacity="0.25"/><circle cx="480.9" cy="821.2" r="0.8" fill="#000" fill-opacity="0.2"/><circle cx="173.2" cy="869.5" r="0.8" fill="#000" fill-opacity="0.2"/><circle cx="385.3" cy="613.9" r="0.8" fill="#000" fill-opacity="0.16"/><circle cx="229.4" cy="799.4" r="0.8" fill="#000" fill-opacity="0.2"/><circle cx="181.7" cy="638.1" r="0.7" fill="#000" fill-opacity="0.25"/><circle cx="182.6" cy="821.2" r="0.6" fill="#000" fill-opacity="0.08"/><circle cx="646.1" cy="881.3" r="0.5" fill="#000" fill-opacity="0.1"/><circle cx="427.7" cy="653.6" r="0.6" fill="#000" fill-opacity="0.08"/><circle cx="459.1" cy="649.1" r="0.7" fill="#000" fill-opacity="0.2"/><circle cx="410.5" cy="885.9" r="0.8" fill="#000" fill-opacity="0.1"/><circle cx="506.8" cy="780.6" r="0.6" fill="#000" fill-opacity="0.1"/><circle cx="539.5" cy="962.3" r="0.8" fill="#000" fill-opacity="0.1"/><circle cx="291.2" cy="898.8" r="0.5" fill="#000" fill-opacity="0.25"/><circle cx="631.6" cy="746.3" r="0.5" fill="#000" fill-opacity="0.13"/><circle cx="468.4" cy="717.8" r="0.7" fill="#000" fill-opacity="0.13"/><circle cx="375.3" cy="799.7" r="0.5" fill="#000" fill-opacity="0.16"/><circle cx="507.1" cy="582.6" r="0.7" fill="#000" fill-opacity="0.13"/><circle cx="640.3" cy="810.6" r="0.7" fill="#000" fill-opacity="0.25"/><circle cx="182.0" cy="745.5" r="0.8" fill="#000" fill-opacity="0.16"/><circle cx="181.9" cy="710.3" r="0.5" fill="#000" fill-opacity="0.08"/><circle cx="481.0" cy="610.0" r="0.6" fill="#000" fill-opacity="0.16"/><circle cx="480.8" cy="800.0" r="0.8" fill="#000" fill-opacity="0.1"/><circle cx="626.7" cy="638.5" r="0.5" fill="#000" fill-opacity="0.25"/><circle cx="553.8" cy="821.4" r="0.5" fill="#000" fill-opacity="0.08"/><circle cx="435.7" cy="696.6" r="0.8" fill="#000" fill-opacity="0.2"/><circle cx="518.8" cy="647.3" r="0.5" fill="#000" fill-opacity="0.08"/><circle cx="173.7" cy="709.8" r="0.5" fill="#000" fill-opacity="0.08"/><circle cx="481.5" cy="622.5" r="0.8" fill="#000" fill-opacity="0.1"/><circle cx="539.0" cy="956.5" r="0.6" fill="#000" fill-opacity="0.2"/><circle cx="309.0" cy="989.0" r="0.5" fill="#000" fill-opacity="0.16"/><circle cx="524.4" cy="752.2" r="0.8" fill="#000" fill-opacity="0.1"/><circle cx="208.3" cy="956.0" r="0.7" fill="#000" fill-opacity="0.25"/><circle cx="620.3" cy="654.4" r="0.5" fill="#000" fill-opacity="0.13"/><circle cx="492.4" cy="858.9" r="0.7" fill="#000" fill-opacity="0.13"/><circle cx="631.1" cy="632.0" r="0.5" fill="#000" fill-opacity="0.1"/><circle cx="275.4" cy="667.0" r="0.7" fill="#000" fill-opacity="0.1"/><circle cx="322.3" cy="642.8" r="0.8" fill="#000" fill-opacity="0.16"/><circle cx="501.3" cy="942.0" r="0.8" fill="#000" fill-opacity="0.25"/><circle cx="309.1" cy="821.1" r="0.5" fill="#000" fill-opacity="0.2"/><circle cx="233.1" cy="540.0" r="0.5" fill="#000" fill-opacity="0.2"/><circle cx="330.3" cy="595.7" r="0.5" fill="#000" fill-opacity="0.08"/><circle cx="568.5" cy="583.0" r="0.5" fill="#000" fill-opacity="0.08"/><circle cx="532.5" cy="623.5" r="0.5" fill="#000" fill-opacity="0.25"/><circle cx="215.0" cy="626.6" r="0.5" fill="#000" fill-opacity="0.08"/><circle cx="627.3" cy="595.3" r="0.7" fill="#000" fill-opacity="0.16"/><circle cx="209.0" cy="956.2" r="0.7" fill="#000" fill-opacity="0.13"/><circle cx="173.6" cy="744.9" r="0.7" fill="#000" fill-opacity="0.13"/><circle cx="455.0" cy="757.4" r="0.7" fill="#000" fill-opacity="0.2"/>
<path d="M159.4,521.3 V1015.3 H652.2 V521.3" fill="none" stroke="#0a0a0a" stroke-width="2.2" stroke-linejoin="miter"/>
<line x1="158.4" y1="521.9" x2="653.2" y2="521.9" class="ld" style="stroke:#111;stroke-width:1.6"/>
<path d="M159.9,1015.3 v7.9 M159.9,521.9 v-7.4 M159.4,1015.4 h-7.2 M652.2,1015.4 h8.6 M168.1,1015.3 v3.8 M168.1,521.9 v-3.7 M159.4,1007.2 h-3.8 M652.2,1007.2 h4.5 M176.2,1015.3 v3.8 M176.2,521.9 v-3.7 M159.4,999.0 h-3.8 M652.2,999.0 h4.5 M184.4,1015.3 v3.8 M184.4,521.9 v-3.7 M159.4,990.8 h-3.8 M652.2,990.8 h4.5 M192.6,1015.3 v3.8 M192.6,521.9 v-3.7 M159.4,982.7 h-3.8 M652.2,982.7 h4.5 M200.7,1015.3 v3.8 M200.7,521.9 v-3.7 M159.4,974.5 h-3.8 M652.2,974.5 h4.5 M208.9,1015.3 v3.8 M208.9,521.9 v-3.7 M159.4,966.3 h-3.8 M652.2,966.3 h4.5 M217.1,1015.3 v3.8 M217.1,521.9 v-3.7 M159.4,958.1 h-3.8 M652.2,958.1 h4.5 M225.2,1015.3 v3.8 M225.2,521.9 v-3.7 M159.4,949.9 h-3.8 M652.2,949.9 h4.5 M233.4,1015.3 v3.8 M233.4,521.9 v-3.7 M159.4,941.7 h-3.8 M652.2,941.7 h4.5 M241.6,1015.3 v7.9 M241.6,521.9 v-7.4 M159.4,933.5 h-7.2 M652.2,933.5 h8.6 M249.7,1015.3 v3.8 M249.7,521.9 v-3.7 M159.4,925.4 h-3.8 M652.2,925.4 h4.5 M257.9,1015.3 v3.8 M257.9,521.9 v-3.7 M159.4,917.2 h-3.8 M652.2,917.2 h4.5 M266.1,1015.3 v3.8 M266.1,521.9 v-3.7 M159.4,909.0 h-3.8 M652.2,909.0 h4.5 M274.2,1015.3 v3.8 M274.2,521.9 v-3.7 M159.4,900.8 h-3.8 M652.2,900.8 h4.5 M282.4,1015.3 v3.8 M282.4,521.9 v-3.7 M159.4,892.6 h-3.8 M652.2,892.6 h4.5 M290.6,1015.3 v3.8 M290.6,521.9 v-3.7 M159.4,884.4 h-3.8 M652.2,884.4 h4.5 M298.7,1015.3 v3.8 M298.7,521.9 v-3.7 M159.4,876.3 h-3.8 M652.2,876.3 h4.5 M306.9,1015.3 v3.8 M306.9,521.9 v-3.7 M159.4,868.1 h-3.8 M652.2,868.1 h4.5 M315.1,1015.3 v3.8 M315.1,521.9 v-3.7 M159.4,859.9 h-3.8 M652.2,859.9 h4.5 M323.2,1015.3 v7.9 M323.2,521.9 v-7.4 M159.4,851.7 h-7.2 M652.2,851.7 h8.6 M331.4,1015.3 v3.8 M331.4,521.9 v-3.7 M159.4,843.5 h-3.8 M652.2,843.5 h4.5 M339.6,1015.3 v3.8 M339.6,521.9 v-3.7 M159.4,835.3 h-3.8 M652.2,835.3 h4.5 M347.7,1015.3 v3.8 M347.7,521.9 v-3.7 M159.4,827.1 h-3.8 M652.2,827.1 h4.5 M355.9,1015.3 v3.8 M355.9,521.9 v-3.7 M159.4,819.0 h-3.8 M652.2,819.0 h4.5 M364.1,1015.3 v3.8 M364.1,521.9 v-3.7 M159.4,810.8 h-3.8 M652.2,810.8 h4.5 M372.2,1015.3 v3.8 M372.2,521.9 v-3.7 M159.4,802.6 h-3.8 M652.2,802.6 h4.5 M380.4,1015.3 v3.8 M380.4,521.9 v-3.7 M159.4,794.4 h-3.8 M652.2,794.4 h4.5 M388.6,1015.3 v3.8 M388.6,521.9 v-3.7 M159.4,786.2 h-3.8 M652.2,786.2 h4.5 M396.7,1015.3 v3.8 M396.7,521.9 v-3.7 M159.4,778.0 h-3.8 M652.2,778.0 h4.5 M404.9,1015.3 v7.9 M404.9,521.9 v-7.4 M159.4,769.8 h-7.2 M652.2,769.8 h8.6 M413.1,1015.3 v3.8 M413.1,521.9 v-3.7 M159.4,761.7 h-3.8 M652.2,761.7 h4.5 M421.2,1015.3 v3.8 M421.2,521.9 v-3.7 M159.4,753.5 h-3.8 M652.2,753.5 h4.5 M429.4,1015.3 v3.8 M429.4,521.9 v-3.7 M159.4,745.3 h-3.8 M652.2,745.3 h4.5 M437.6,1015.3 v3.8 M437.6,521.9 v-3.7 M159.4,737.1 h-3.8 M652.2,737.1 h4.5 M445.7,1015.3 v3.8 M445.7,521.9 v-3.7 M159.4,728.9 h-3.8 M652.2,728.9 h4.5 M453.9,1015.3 v3.8 M453.9,521.9 v-3.7 M159.4,720.7 h-3.8 M652.2,720.7 h4.5 M462.1,1015.3 v3.8 M462.1,521.9 v-3.7 M159.4,712.6 h-3.8 M652.2,712.6 h4.5 M470.2,1015.3 v3.8 M470.2,521.9 v-3.7 M159.4,704.4 h-3.8 M652.2,704.4 h4.5 M478.4,1015.3 v3.8 M478.4,521.9 v-3.7 M159.4,696.2 h-3.8 M652.2,696.2 h4.5 M486.6,1015.3 v7.9 M486.6,521.9 v-7.4 M159.4,688.0 h-7.2 M652.2,688.0 h8.6 M494.7,1015.3 v3.8 M494.7,521.9 v-3.7 M159.4,679.8 h-3.8 M652.2,679.8 h4.5 M502.9,1015.3 v3.8 M502.9,521.9 v-3.7 M159.4,671.6 h-3.8 M652.2,671.6 h4.5 M511.1,1015.3 v3.8 M511.1,521.9 v-3.7 M159.4,663.4 h-3.8 M652.2,663.4 h4.5 M519.2,1015.3 v3.8 M519.2,521.9 v-3.7 M159.4,655.3 h-3.8 M652.2,655.3 h4.5 M527.4,1015.3 v3.8 M527.4,521.9 v-3.7 M159.4,647.1 h-3.8 M652.2,647.1 h4.5 M535.6,1015.3 v3.8 M535.6,521.9 v-3.7 M159.4,638.9 h-3.8 M652.2,638.9 h4.5 M543.7,1015.3 v3.8 M543.7,521.9 v-3.7 M159.4,630.7 h-3.8 M652.2,630.7 h4.5 M551.9,1015.3 v3.8 M551.9,521.9 v-3.7 M159.4,622.5 h-3.8 M652.2,622.5 h4.5 M560.1,1015.3 v3.8 M560.1,521.9 v-3.7 M159.4,614.3 h-3.8 M652.2,614.3 h4.5 M568.2,1015.3 v7.9 M568.2,521.9 v-7.4 M159.4,606.1 h-7.2 M652.2,606.1 h8.6 M576.4,1015.3 v3.8 M576.4,521.9 v-3.7 M159.4,598.0 h-3.8 M652.2,598.0 h4.5 M584.6,1015.3 v3.8 M584.6,521.9 v-3.7 M159.4,589.8 h-3.8 M652.2,589.8 h4.5 M592.7,1015.3 v3.8 M592.7,521.9 v-3.7 M159.4,581.6 h-3.8 M652.2,581.6 h4.5 M600.9,1015.3 v3.8 M600.9,521.9 v-3.7 M159.4,573.4 h-3.8 M652.2,573.4 h4.5 M609.1,1015.3 v3.8 M609.1,521.9 v-3.7 M159.4,565.2 h-3.8 M652.2,565.2 h4.5 M617.2,1015.3 v3.8 M617.2,521.9 v-3.7 M159.4,557.0 h-3.8 M652.2,557.0 h4.5 M625.4,1015.3 v3.8 M625.4,521.9 v-3.7 M159.4,548.9 h-3.8 M652.2,548.9 h4.5 M633.6,1015.3 v3.8 M633.6,521.9 v-3.7 M159.4,540.7 h-3.8 M652.2,540.7 h4.5 M641.7,1015.3 v3.8 M641.7,521.9 v-3.7 M159.4,532.5 h-3.8 M652.2,532.5 h4.5 M649.9,1015.3 v7.9 M649.9,521.9 v-7.4 M159.4,524.3 h-7.2 M652.2,524.3 h8.6" stroke="#0a0a0a" stroke-width="2" fill="none"/>
<text x="138.3" y="1020.9" font-size="15" class="n" text-anchor="end">0</text>
<text x="163.1" y="1045.4" font-size="15" class="n" text-anchor="middle">0</text>
<text x="138.3" y="939.0" font-size="15" class="n" text-anchor="end" textLength="42.5" lengthAdjust="spacingAndGlyphs">50000</text>
<text x="243.8" y="1045.4" font-size="15" class="n" text-anchor="middle" textLength="42.5" lengthAdjust="spacingAndGlyphs">50000</text>
<text x="138.3" y="857.2" font-size="15" class="n" text-anchor="end" textLength="51" lengthAdjust="spacingAndGlyphs">100000</text>
<text x="325.4" y="1045.4" font-size="15" class="n" text-anchor="middle" textLength="51" lengthAdjust="spacingAndGlyphs">100000</text>
<text x="138.3" y="775.3" font-size="15" class="n" text-anchor="end" textLength="51" lengthAdjust="spacingAndGlyphs">150000</text>
<text x="407.1" y="1045.4" font-size="15" class="n" text-anchor="middle" textLength="51" lengthAdjust="spacingAndGlyphs">150000</text>
<text x="138.3" y="693.5" font-size="15" class="n" text-anchor="end" textLength="51" lengthAdjust="spacingAndGlyphs">200000</text>
<text x="488.8" y="1045.4" font-size="15" class="n" text-anchor="middle" textLength="51" lengthAdjust="spacingAndGlyphs">200000</text>
<text x="138.3" y="611.6" font-size="15" class="n" text-anchor="end" textLength="51" lengthAdjust="spacingAndGlyphs">250000</text>
<text x="570.4" y="1045.4" font-size="15" class="n" text-anchor="middle" textLength="51" lengthAdjust="spacingAndGlyphs">250000</text>
<text x="138.3" y="529.8" font-size="15" class="n" text-anchor="end" textLength="51" lengthAdjust="spacingAndGlyphs">300000</text>
<text x="652.1" y="1045.4" font-size="15" class="n" text-anchor="middle" textLength="51" lengthAdjust="spacingAndGlyphs">300000</text>
<text transform="translate(67.7,997) rotate(-90)" font-size="19.6" class="n" textLength="456" lengthAdjust="spacingAndGlyphs">1. _Heinz_Ty2region_______________ length=301578</text>
<text x="178.2" y="1072.5" font-size="19.3" class="n" textLength="456.4" lengthAdjust="spacingAndGlyphs">2. _LYC4_superscaffold____________ length=278556</text>
<text x="509.4" y="543.5" font-size="17.2" class="n" text-anchor="start" textLength="64.3" lengthAdjust="spacingAndGlyphs">'forward'</text>
<text x="509.4" y="560.3" font-size="17.2" class="n" text-anchor="start" textLength="64.3" lengthAdjust="spacingAndGlyphs">'reverse'</text>
<line x1="583.8" y1="538.4" x2="632.3" y2="538.4" class="ld" style="stroke:#333;stroke-width:2.3"/>
<line x1="583.8" y1="555.4" x2="632.3" y2="555.4" class="ld" style="stroke:#0a0a0a;stroke-width:2.7"/>
<text x="165.5" y="556.4" font-size="16.2" class="b" text-anchor="start" textLength="103" lengthAdjust="spacingAndGlyphs">NB-LRR gene</text>
<text x="545.6" y="999.6" font-size="16.2" class="b" text-anchor="start" textLength="103" lengthAdjust="spacingAndGlyphs">NB-LRR gene</text>
<text x="458.5" y="833.7" font-size="16.6" class="n" text-anchor="start" textLength="80.7" lengthAdjust="spacingAndGlyphs">'3.2 kb gap</text>
<text x="458.5" y="850.6" font-size="16.6" class="n" text-anchor="start" textLength="80.7" lengthAdjust="spacingAndGlyphs">'4.5 kb gap</text>
<path d="M160.4,1013.9 L186.3,987.9" stroke="#333" stroke-width="2.4" fill="none" stroke-linecap="butt" stroke-linejoin="round"/>
<path d="M160.3,578.3 L169.2,570.4" stroke="#333" stroke-width="2.5" fill="none" stroke-linecap="butt" stroke-linejoin="round"/>
<path d="M560.4,1013.2 L567.7,1004.8" stroke="#333" stroke-width="2.5" fill="none" stroke-linecap="butt" stroke-linejoin="round"/>
<path d="M560.3,577 L570.5,567.5" stroke="#1a1a1a" stroke-width="2.7" fill="none" stroke-linecap="butt" stroke-linejoin="round"/>
<path d="M573,565 L582.5,556" stroke="#1a1a1a" stroke-width="2.7" fill="none" stroke-linecap="butt" stroke-linejoin="round"/>
<path d="M583.5,554.5 L589.5,549" stroke="#2a2a2a" stroke-width="2.6" fill="none" stroke-linecap="butt" stroke-linejoin="round"/>
<path d="M590.5,544 L600,535.5" stroke="#2a2a2a" stroke-width="2.6" fill="none" stroke-linecap="butt" stroke-linejoin="round"/>
<path d="M601,533 L615,523" stroke="#2a2a2a" stroke-width="2.6" fill="none" stroke-linecap="butt" stroke-linejoin="round"/>
<path d="M189.4,564.7 L192.6,567.2" stroke="#0a0a0a" stroke-width="2.7" fill="none" stroke-linecap="butt" stroke-linejoin="round"/>
<path d="M193.7,568.2 L197,570.6" stroke="#0a0a0a" stroke-width="2.7" fill="none" stroke-linecap="butt" stroke-linejoin="round"/>
<path d="M196.8,584.4 L236.2,622.3" stroke="#0a0a0a" stroke-width="2.5" fill="none" stroke-linecap="butt" stroke-linejoin="round"/>
<path d="M236.6,632.9 L316.7,713 L340,733.6 L352.4,746 L372,763.4" stroke="#0a0a0a" stroke-width="2.5" fill="none" stroke-linecap="butt" stroke-linejoin="round"/>
<path d="M373.6,765.3 L427.8,820.3" stroke="#0a0a0a" stroke-width="2.5" fill="none" stroke-linecap="butt" stroke-linejoin="round"/>
<path d="M451.5,849.9 L467.7,863.6" stroke="#0a0a0a" stroke-width="2.5" fill="none" stroke-linecap="butt" stroke-linejoin="round"/>
<path d="M468.3,866.7 L472.5,872.4" stroke="#0a0a0a" stroke-width="2.5" fill="none" stroke-linecap="butt" stroke-linejoin="round"/>
<path d="M474.6,874.1 L507.2,910 L560.4,963" stroke="#0a0a0a" stroke-width="2.5" fill="none" stroke-linecap="butt" stroke-linejoin="round"/>
<path d="M562.2,967.6 L566.8,971.6" stroke="#0a0a0a" stroke-width="2.4" fill="none" stroke-linecap="butt" stroke-linejoin="round"/>
<circle cx="572.3" cy="974.6" r="1.4" fill="#222"/>
<circle cx="317" cy="713.2" r="1.9" fill="#0a0a0a"/>
<path d="M160.8,964.5 L164.3,968.5" stroke="#111" stroke-width="2.5" fill="none" stroke-linecap="butt" stroke-linejoin="round"/>
<path d="M165.6,970 L169,974.2" stroke="#111" stroke-width="2.5" fill="none" stroke-linecap="butt" stroke-linejoin="round"/>
<circle cx="169.4" cy="974.6" r="1" fill="#333"/>
<ellipse cx="447.3" cy="829.6" rx="5" ry="2.2" fill="#fff" stroke="#0a0a0a" stroke-width="1.9"/>
<path d="M437.6,826.7 l4.4,2.9 l-4.4,2.9 M453.4,829.6 h2.8" stroke="#0a0a0a" stroke-width="1.9" fill="none"/>
<rect x="442" y="840.5" width="9.5" height="8.6" fill="#0a0a0a"/>
<rect x="441.4" y="849.6" width="2.4" height="2.4" fill="#0a0a0a"/>
<rect x="451.4" y="849.6" width="2.6" height="2.6" fill="#0a0a0a"/>
<line x1="438.5" y1="841.5" x2="438.5" y2="849" class="ld" style="stroke:#0a0a0a;stroke-width:1.6"/>
<circle cx="437.8" cy="810" r="0.9" fill="#000" fill-opacity="0.6"/>
<circle cx="447.3" cy="810" r="0.9" fill="#000" fill-opacity="0.6"/>
<circle cx="416.8" cy="827.8" r="0.9" fill="#000" fill-opacity="0.5"/>
<circle cx="435.7" cy="858.3" r="1" fill="#000" fill-opacity="0.7"/>
<circle cx="473.6" cy="857.3" r="1" fill="#000" fill-opacity="0.7"/>
<circle cx="427.3" cy="868.8" r="0.9" fill="#000" fill-opacity="0.6"/>
<circle cx="434.7" cy="875.2" r="1" fill="#000" fill-opacity="0.7"/>
<circle cx="437.8" cy="872" r="1" fill="#000" fill-opacity="0.7"/>
<circle cx="459.5" cy="872" r="1" fill="#000" fill-opacity="0.7"/>
<circle cx="462" cy="875.2" r="1" fill="#000" fill-opacity="0.7"/>
<circle cx="416.8" cy="810" r="0.8" fill="#000" fill-opacity="0.4"/>
<circle cx="560.4" cy="977.3" r="1" fill="#000" fill-opacity="0.6"/>
<circle cx="572.7" cy="1004.8" r="0.9" fill="#000" fill-opacity="0.5"/>
<circle cx="238.1" cy="633.8" r="1.25" fill="#1a1a1a"/>
<circle cx="245.29999999999998" cy="633.8" r="1.25" fill="#1a1a1a"/>
<circle cx="238.1" cy="641.0" r="1.25" fill="#1a1a1a"/>
<circle cx="245.29999999999998" cy="641.0" r="1.25" fill="#1a1a1a"/>
<circle cx="241.7" cy="632.4" r="1.25" fill="#1a1a1a"/>
<circle cx="241.7" cy="642.4" r="1.25" fill="#1a1a1a"/>
<circle cx="236.7" cy="637.4" r="1.25" fill="#1a1a1a"/>
<circle cx="246.7" cy="637.4" r="1.25" fill="#1a1a1a"/>
<circle cx="163.1" cy="581.1" r="1" fill="#000" fill-opacity="0.6"/>
<circle cx="168.8" cy="580.5" r="1" fill="#000" fill-opacity="0.6"/>
<circle cx="572" cy="579.7" r="1.3" fill="#000" fill-opacity="0.9"/>
<circle cx="562.1" cy="581" r="0.9" fill="#000" fill-opacity="0.5"/>
</g>
</svg></body></html>
